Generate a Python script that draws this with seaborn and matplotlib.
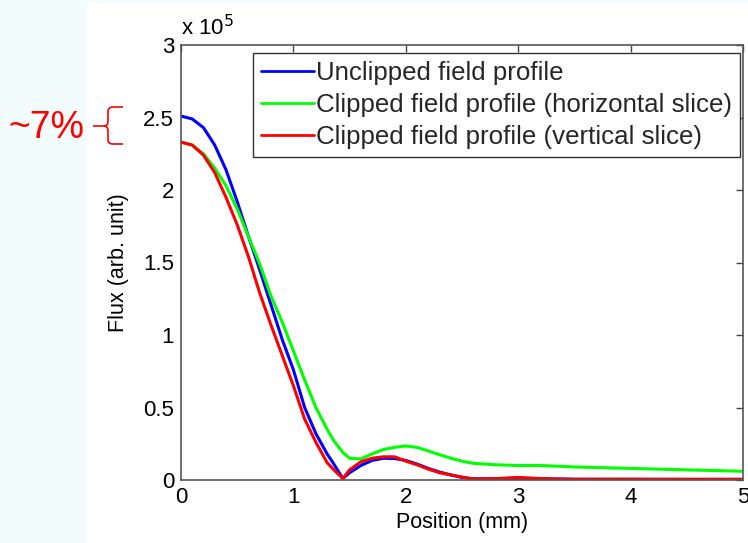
import numpy as np
import pandas as pd
import matplotlib
matplotlib.use("Agg")
import matplotlib.pyplot as plt
from matplotlib.path import Path
from matplotlib.patches import PathPatch, Rectangle
import seaborn as sns

# ---- data (flux in units of 1e5) ----
position_mm = [0, 0.1, 0.2, 0.3, 0.4, 0.5, 0.6, 0.7, 0.8, 0.9, 1.0, 1.1, 1.2, 1.3, 1.36,
               1.44, 1.5, 1.6, 1.7, 1.8, 1.9, 2.0, 2.1, 2.2, 2.3, 2.4, 2.5, 2.6, 2.8,
               3.0, 3.2, 3.5, 4.0, 4.5, 5.0]
unclipped = [2.51, 2.49, 2.43, 2.31, 2.14, 1.92, 1.68, 1.45, 1.21, 0.97, 0.76, 0.50, 0.32,
             0.18, 0.11, 0.01, 0.05, 0.10, 0.135, 0.15, 0.148, 0.135, 0.11, 0.08, 0.055,
             0.035, 0.018, 0.008, 0.008, 0.012, 0.008, 0.005, 0.005, 0.004, 0.004]
clipped_h = [2.33, 2.31, 2.25, 2.15, 2.03, 1.87, 1.68, 1.49, 1.27, 1.09, 0.89, 0.69, 0.50,
             0.35, 0.27, 0.19, 0.15, 0.145, 0.18, 0.21, 0.225, 0.235, 0.225, 0.20, 0.175,
             0.15, 0.13, 0.115, 0.105, 0.10, 0.10, 0.09, 0.08, 0.07, 0.06]
clipped_v = [2.33, 2.31, 2.24, 2.12, 1.95, 1.76, 1.54, 1.29, 1.07, 0.86, 0.65, 0.42, 0.26,
             0.12, 0.07, 0.01, 0.07, 0.125, 0.15, 0.16, 0.16, 0.13, 0.105, 0.075, 0.05,
             0.035, 0.02, 0.008, 0.01, 0.018, 0.01, 0.005, 0.005, 0.005, 0.005]
labels = ["Unclipped field profile",
          "Clipped field profile (horizontal slice)",
          "Clipped field profile (vertical slice)"]
colors = ["#0000ff", "#00ff00", "#ff0000"]
x_ticks = [0, 1, 2, 3, 4, 5]
y_ticks = [0, 0.5, 1, 1.5, 2, 2.5, 3]
y_tick_labels = ["0", "0.5", "1", "1.5", "2", "2.5", "3"]

sns.set_theme(style="white")
plt.rcParams["font.family"] = ["Liberation Sans", "DejaVu Sans"]

W, H = 748, 543
fig = plt.figure(figsize=(W / 100, H / 100), dpi=100)
fig.patch.set_facecolor("#f3fcfd")
fig.patches.append(Rectangle((87 / W, 0), 1 - 87 / W, 1 - 3 / H, transform=fig.transFigure,
                             facecolor="white", edgecolor="none", zorder=-10))

ax = fig.add_axes([181 / W, 1 - 480 / H, (743 - 181) / W, (480 - 45) / H])
ax.set_zorder(5)
ax.set_facecolor("white")

df = pd.DataFrame({"x": position_mm, labels[0]: unclipped,
                   labels[1]: clipped_h, labels[2]: clipped_v})
for lab, col in zip(labels, colors):
    sns.lineplot(data=df, x="x", y=lab, ax=ax, color=col, lw=2.2, label=lab)

ax.set_xlim(0, 5)
ax.set_ylim(0, 3)
ax.set_xticks(x_ticks)
ax.set_xticklabels([str(t) for t in x_ticks])
ax.set_yticks(y_ticks)
ax.set_yticklabels(y_tick_labels)
ax.tick_params(direction="in", length=5, width=1, color="#444444", top=True, right=True,
               labelsize=16, pad=5, labelcolor="black")
for s in ax.spines.values():
    s.set_visible(True)
    s.set_color("#555555")
    s.set_linewidth(1.2)
ax.set_xlabel("Position (mm)", fontsize=15.5, labelpad=3, color="black")
ax.set_ylabel("Flux (arb. unit)", fontsize=15.5, labelpad=10, color="black")
ax.text(0.0, 1.012, r"x 10$^5$", transform=ax.transAxes, fontsize=16, ha="left",
        va="bottom", color="black")

leg = ax.legend(loc="upper right", bbox_to_anchor=(0.995, 0.982), borderaxespad=0,
                fontsize=18.6, frameon=True, fancybox=False, framealpha=1,
                handlelength=2.05, handletextpad=0.1, labelspacing=0.32,
                borderpad=0.3)
leg.get_frame().set_edgecolor("#333333")
leg.get_frame().set_linewidth(1.0)
for h in leg.get_lines():
    h.set_linewidth(2)

# annotation
fig.text(8 / W, 1 - 128 / H, "~7%", fontsize=27, color="#ff0000", ha="left", va="center",
         zorder=10)

def P(x, y):
    return (x / W, 1 - y / H)

verts_top = [P(93, 126), P(104, 126), P(108, 126), P(108, 121), P(108, 112),
             P(108, 107), P(113, 107), P(123, 107)]
codes_top = [Path.MOVETO, Path.LINETO, Path.CURVE3, Path.CURVE3, Path.LINETO,
             Path.CURVE3, Path.CURVE3, Path.LINETO]
verts_bot = [P(104, 126), P(108, 126), P(108, 131), P(108, 140),
             P(108, 144), P(113, 144), P(123, 144)]
codes_bot = [Path.MOVETO, Path.CURVE3, Path.CURVE3, Path.LINETO,
             Path.CURVE3, Path.CURVE3, Path.LINETO]
for v, c in [(verts_top, codes_top), (verts_bot, codes_bot)]:
    fig.patches.append(PathPatch(Path(v, c), transform=fig.transFigure, facecolor="none",
                                 edgecolor="#ff0000", lw=1.2, zorder=10))

fig.savefig("out.png", dpi=100, facecolor=fig.get_facecolor())
